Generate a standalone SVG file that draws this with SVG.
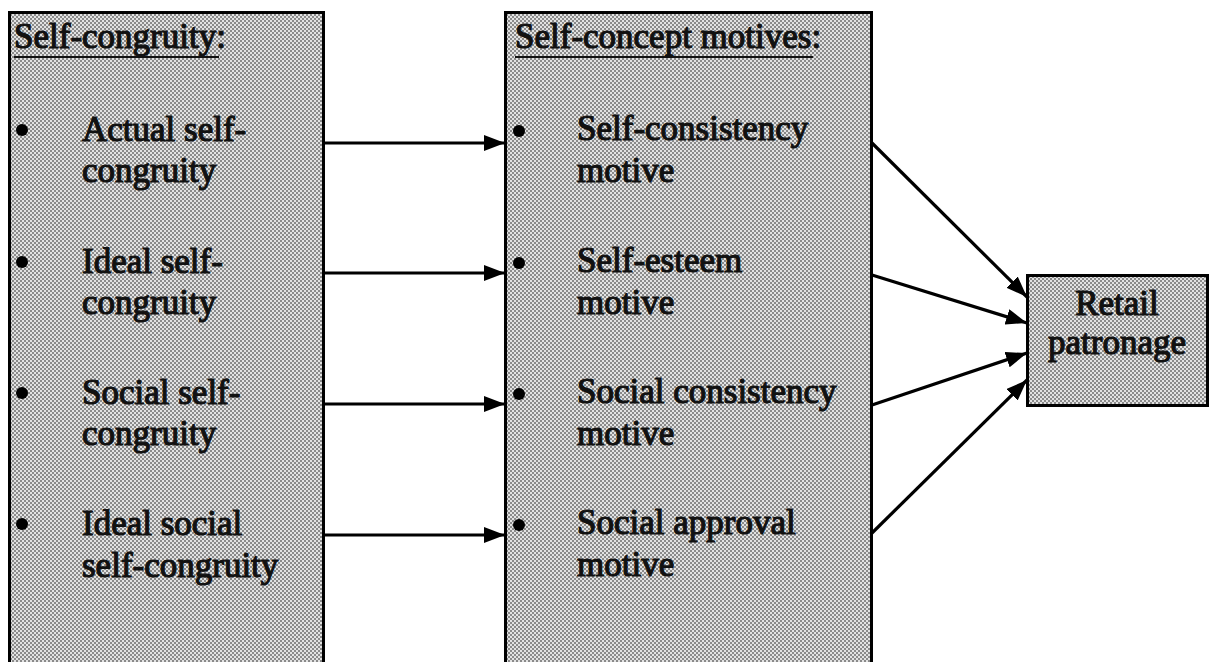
<svg xmlns="http://www.w3.org/2000/svg" width="1210" height="662" viewBox="0 0 1210 662">
  <defs>
    <!-- halftone fill used by every box -->
    <pattern id="dots" width="4" height="4" patternUnits="userSpaceOnUse">
      <rect width="4" height="4" fill="#e2e2e2"/>
      <rect x="0" y="0" width="2" height="2" fill="#8a8a8a"/>
      <rect x="2" y="2" width="2" height="2" fill="#8a8a8a"/>
    </pattern>
    <marker id="head" markerUnits="userSpaceOnUse" markerWidth="22" markerHeight="16" refX="21" refY="8" orient="auto">
      <path d="M0,0 L21,8 L0,16 Z" fill="#000"/>
    </marker>
    <style>
      .box { fill: url(#dots); stroke: #000; stroke-width: 3; }
      .t { font-family: "Liberation Serif", "Times New Roman", serif; font-size: 35px; fill: #111; stroke: #111; stroke-width: 1.2; stroke-linejoin: round; }
      .mid { text-anchor: middle; }
      .ul { stroke: #111; stroke-width: 2; }
      .bul { fill: #000; }
      .conn { stroke: #000; stroke-width: 3.2; fill: none; marker-end: url(#head); }
    </style>
  </defs>

  <rect width="1210" height="662" fill="#fff"/>

  <!-- left column: self-congruity types -->
  <g id="self-congruity">
    <rect class="box" x="9.5" y="12.5" width="314" height="680"/>
    <text class="t" x="14" y="48">Self-congruity:</text>
    <line class="ul" x1="14" y1="57" x2="219" y2="57"/>
    <circle class="bul" cx="22" cy="130" r="6"/>
    <text class="t" x="82" y="141">Actual self-</text>
    <text class="t" x="82" y="182">congruity</text>
    <circle class="bul" cx="22" cy="262" r="6"/>
    <text class="t" x="82" y="273">Ideal self-</text>
    <text class="t" x="82" y="314">congruity</text>
    <circle class="bul" cx="22" cy="393" r="6"/>
    <text class="t" x="82" y="404">Social self-</text>
    <text class="t" x="82" y="445">congruity</text>
    <circle class="bul" cx="22" cy="524" r="6"/>
    <text class="t" x="82" y="535">Ideal social</text>
    <text class="t" x="82" y="577">self-congruity</text>
  </g>

  <!-- middle column: self-concept motives -->
  <g id="self-concept-motives">
    <rect class="box" x="505.5" y="12.5" width="366" height="680"/>
    <text class="t" x="515" y="48">Self-concept motives:</text>
    <line class="ul" x1="515" y1="57" x2="813" y2="57"/>
    <circle class="bul" cx="519" cy="131" r="6"/>
    <text class="t" x="577" y="140">Self-consistency</text>
    <text class="t" x="577" y="182">motive</text>
    <circle class="bul" cx="519" cy="263" r="6"/>
    <text class="t" x="577" y="272">Self-esteem</text>
    <text class="t" x="577" y="314">motive</text>
    <circle class="bul" cx="519" cy="394" r="6"/>
    <text class="t" x="577" y="403">Social consistency</text>
    <text class="t" x="577" y="445">motive</text>
    <circle class="bul" cx="519" cy="525" r="6"/>
    <text class="t" x="577" y="534">Social approval</text>
    <text class="t" x="577" y="576">motive</text>
  </g>

  <!-- outcome -->
  <g id="retail-patronage">
    <rect class="box" x="1027.5" y="275.5" width="180" height="130"/>
    <text class="t mid" x="1117" y="315">Retail</text>
    <text class="t mid" x="1117" y="354">patronage</text>
  </g>

  <!-- connectors -->
  <g id="connectors">
    <line class="conn" x1="323" y1="143" x2="505" y2="143"/>
    <line class="conn" x1="323" y1="273" x2="505" y2="273"/>
    <line class="conn" x1="323" y1="404" x2="505" y2="404"/>
    <line class="conn" x1="323" y1="535" x2="505" y2="535"/>
    <line class="conn" x1="872" y1="143" x2="1027" y2="297"/>
    <line class="conn" x1="872" y1="275" x2="1027" y2="323"/>
    <line class="conn" x1="872" y1="405" x2="1027" y2="353"/>
    <line class="conn" x1="872" y1="533" x2="1027" y2="380"/>
  </g>
</svg>
